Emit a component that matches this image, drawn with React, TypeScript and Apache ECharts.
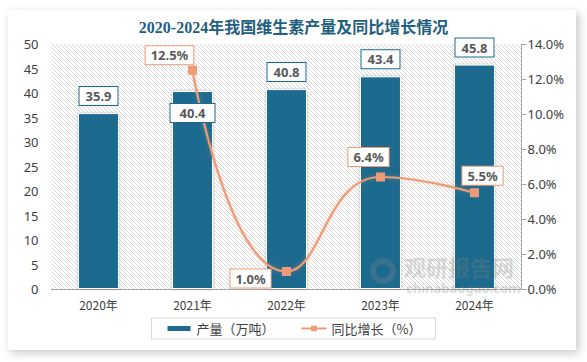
import React, { useEffect, useRef } from "react";
import * as echarts from "echarts";

const categories = ["2020年", "2021年", "2022年", "2023年", "2024年"];
const production = [35.9, 40.4, 40.8, 43.4, 45.8];
const growth: (number | null)[] = [null, 12.5, 1.0, 6.4, 5.5];
const titleText = "2020-2024年我国维生素产量及同比增长情况";
const barName = "产量（万吨）";
const lineName = "同比增长（%）";

const BAR = "#1F6B8E";
const LINE = "#EE9A76";
const LABEL_GRAY = "#595959";

function makeHatch() {
  const c = document.createElement("canvas");
  c.width = 4;
  c.height = 4;
  const ctx = c.getContext("2d")!;
  ctx.fillStyle = "#ffffff";
  ctx.fillRect(0, 0, 4, 4);
  ctx.fillStyle = "#d9d9d9";
  for (let i = 0; i < 4; i++) ctx.fillRect(i, i, 1, 1);
  return c;
}

export default function App() {
  const ref = useRef<HTMLDivElement>(null);
  useEffect(() => {
    const chart = echarts.init(ref.current!, null, { renderer: "svg" });
    const hatch = makeHatch();
    const lineOffsets: Record<number, [number, number]> = {
      1: [-23, -15],
      2: [-36, 7],
      3: [-12, -20],
      4: [8, -17],
    };
    const labelText = {
      backgroundColor: "#fff",
      borderWidth: 1,
      color: LABEL_GRAY,
      fontWeight: "bold",
      fontSize: 13,
      fontFamily: "Noto Sans",
    };
    chart.setOption({
      animation: false,
      backgroundColor: "#ffffff",
      title: {
        text: titleText,
        left: "center",
        top: 14,
        textStyle: {
          color: "#1F5F80",
          fontSize: 16,
          fontWeight: "bold",
          fontFamily: "Liberation Serif, Noto Sans CJK SC",
        },
      },
      graphic: [
        {
          type: "rect",
          z: -10,
          shape: { x: 8, y: 10, width: 568, height: 340 },
          style: {
            fill: "#ffffff",
            shadowBlur: 10,
            shadowColor: "rgba(0,0,0,0.22)",
            shadowOffsetX: 3,
            shadowOffsetY: 3,
          },
        },
        {
          type: "ring",
          z: 100,
          shape: { cx: 383, cy: 271, r: 13, r0: 7 },
          style: { fill: "rgba(140,140,140,0.25)" },
        },
        {
          type: "text",
          z: 100,
          style: {
            text: "观研报告网",
            x: 404,
            y: 255,
            lineHeight: 22,
            fill: "rgba(130,130,130,0.3)",
            font: "bold 22px 'Noto Sans CJK SC'",
          },
        },
        {
          type: "text",
          z: 100,
          style: {
            text: "chinabaogao.com",
            x: 406,
            y: 281,
            lineHeight: 13,
            fill: "rgba(130,130,130,0.3)",
            font: "bold 13px 'Noto Sans'",
          },
        },
      ],
      legend: {
        left: "center",
        top: 318,
        itemGap: 26,
        borderColor: "#d9d9d9",
        borderWidth: 1,
        padding: [4, 14, 4, 14],
        textStyle: {
          color: "#404040",
          fontSize: 13,
          fontFamily: "Noto Sans CJK SC",
        },
        data: [
          { name: barName, icon: "rect", itemStyle: { color: BAR } },
          { name: lineName },
        ],
        itemWidth: 25,
        itemHeight: 7,
      },
      grid: {
        left: 51.5,
        right: 65.5,
        top: 44,
        bottom: 73,
        show: true,
        borderWidth: 0,
        backgroundColor: {
          image: hatch,
          repeat: "repeat",
          imageWidth: 4,
          imageHeight: 4,
        },
      },
      xAxis: {
        type: "category",
        data: categories,
        axisLine: { lineStyle: { color: "#a6a6a6", width: 1 } },
        axisTick: { show: false },
        axisLabel: {
          color: "#404040",
          fontSize: 12,
          fontFamily: "Noto Sans CJK SC",
          margin: 9,
        },
      },
      yAxis: [
        {
          type: "value",
          min: 0,
          max: 50,
          interval: 5,
          axisLine: { show: false },
          axisTick: { show: false },
          splitLine: { show: false },
          axisLabel: {
            color: "#404040",
            fontSize: 13,
            fontFamily: "Noto Sans",
            margin: 13,
          },
        },
        {
          type: "value",
          min: 0,
          max: 14,
          interval: 2,
          position: "right",
          axisLine: { show: true, lineStyle: { color: "#a6a6a6" } },
          axisTick: { show: true, length: 5, lineStyle: { color: "#a6a6a6" } },
          splitLine: { show: false },
          axisLabel: {
            color: "#404040",
            fontSize: 13,
            fontFamily: "Noto Sans",
            margin: 6,
            formatter: (v: number) => v.toFixed(1) + "%",
          },
        },
      ],
      series: [
        {
          name: barName,
          type: "bar",
          yAxisIndex: 0,
          z: 2,
          barWidth: "43.6%",
          itemStyle: {
            color: BAR,
            borderColor: "#ffffff",
            borderWidth: 1,
            shadowBlur: 3,
            shadowColor: "rgba(0,0,0,0.25)",
          },
          data: production,
        },
        {
          name: lineName,
          type: "line",
          yAxisIndex: 1,
          z: 3,
          smooth: 0.5,
          symbol: "rect",
          symbolSize: 9,
          connectNulls: false,
          itemStyle: { color: LINE },
          lineStyle: {
            color: LINE,
            width: 2.2,
            shadowBlur: 4,
            shadowColor: "rgba(238,154,118,0.4)",
          },
          data: growth.map((v, i) =>
            v == null
              ? "-"
              : {
                  value: v,
                  label: {
                    show: true,
                    position: "inside",
                    offset: lineOffsets[i],
                    formatter: (p: any) => Number(p.value).toFixed(1) + "%",
                    borderColor: LINE,
                    padding: [3, 5, 2, 5],
                    ...labelText,
                  },
                }
          ),
        },
        {
          name: "barLabels",
          type: "scatter",
          yAxisIndex: 0,
          z: 5,
          symbolSize: 1,
          silent: true,
          itemStyle: { opacity: 1, color: "rgba(0,0,0,0)" },
          tooltip: { show: false },
          data: production.map((v, i) => ({
            value: v,
            label: {
              show: true,
              position: "inside",
              offset: i === 1 ? [0, 22] : [0, -17],
              formatter: (p: any) => Number(p.value).toFixed(1),
              borderColor: BAR,
              padding: i === 1 ? [3, 9, 2, 9] : [3, 6, 2, 6],
              ...labelText,
            },
          })),
        },
      ],
    });
    return () => chart.dispose();
  }, []);
  return (
    <div
      ref={ref}
      style={{ position: "fixed", left: 0, top: 0, width: 587, height: 362 }}
    />
  );
}
